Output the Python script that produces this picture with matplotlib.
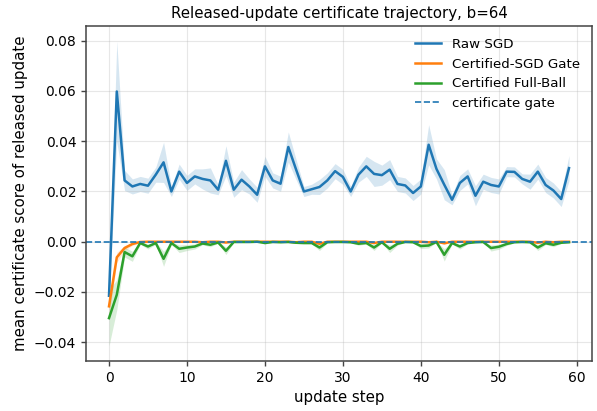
import numpy as np
import matplotlib
matplotlib.use("Agg")
import matplotlib.pyplot as plt

steps = np.arange(60)

raw_sgd = [-0.0215, 0.0598, 0.0244, 0.0220, 0.0230, 0.0223, 0.0267, 0.0316, 0.0200, 0.0279,
           0.0234, 0.0260, 0.0250, 0.0244, 0.0207, 0.0322, 0.0207, 0.0247, 0.0220, 0.0187,
           0.0300, 0.0244, 0.0231, 0.0377, 0.0287, 0.0200, 0.0209, 0.0218, 0.0244, 0.0281,
           0.0258, 0.0200, 0.0267, 0.0300, 0.0270, 0.0265, 0.0287, 0.0230, 0.0224, 0.0194,
           0.0220, 0.0386, 0.0290, 0.0227, 0.0167, 0.0234, 0.0260, 0.0183, 0.0239, 0.0226,
           0.0220, 0.0279, 0.0278, 0.0250, 0.0239, 0.0279, 0.0226, 0.0204, 0.0170, 0.0293]
raw_sgd_std = [0.003, 0.020, 0.004, 0.003, 0.003, 0.003, 0.003, 0.008, 0.002, 0.003,
               0.003, 0.003, 0.004, 0.005, 0.002, 0.006, 0.003, 0.004, 0.003, 0.003,
               0.004, 0.003, 0.003, 0.006, 0.004, 0.002, 0.002, 0.003, 0.003, 0.003,
               0.003, 0.002, 0.003, 0.004, 0.005, 0.004, 0.004, 0.003, 0.003, 0.003,
               0.003, 0.008, 0.004, 0.006, 0.002, 0.003, 0.003, 0.004, 0.003, 0.003,
               0.003, 0.002, 0.002, 0.002, 0.003, 0.003, 0.003, 0.003, 0.003, 0.005]

gate = [-0.0257, -0.0062, -0.0025, -0.0009, -0.0001, 0.0, 0.0, 0.0, 0.0, 0.0,
        0.0, 0.0, -0.0002, 0.0, 0.0, -0.0003, 0.0, 0.0, 0.0, 0.0,
        0.0, 0.0, 0.0, 0.0, -0.0002, 0.0, 0.0, -0.0008, 0.0, 0.0,
        0.0, 0.0, 0.0, 0.0, -0.0005, 0.0, 0.0, 0.0, 0.0, 0.0,
        0.0, -0.0002, 0.0, -0.0006, 0.0, 0.0, 0.0, 0.0, 0.0, 0.0,
        0.0, 0.0, 0.0, 0.0, 0.0, -0.0004, 0.0, -0.0002, 0.0, 0.0]
gate_std = [0.004, 0.002, 0.001, 0.0006, 0.0002, 0.0, 0.0, 0.0, 0.0, 0.0,
            0.0, 0.0, 0.0002, 0.0, 0.0, 0.0003, 0.0, 0.0, 0.0, 0.0,
            0.0, 0.0, 0.0, 0.0, 0.0002, 0.0, 0.0, 0.0006, 0.0, 0.0,
            0.0, 0.0, 0.0, 0.0, 0.0004, 0.0, 0.0, 0.0, 0.0, 0.0,
            0.0, 0.0002, 0.0, 0.0005, 0.0, 0.0, 0.0, 0.0, 0.0, 0.0,
            0.0, 0.0, 0.0, 0.0, 0.0, 0.0003, 0.0, 0.0002, 0.0, 0.0]

full_ball = [-0.0304, -0.0211, -0.0041, -0.0058, -0.0005, -0.0019, -0.0005, -0.0068, -0.0005, -0.0028,
             -0.0023, -0.0019, -0.0007, -0.0012, -0.0003, -0.0036, -0.0001, -0.0001, -0.0001, 0.0,
             -0.0005, -0.0001, -0.0002, -0.0001, -0.0004, -0.0005, -0.0005, -0.0023, -0.0002, -0.0001,
             -0.0001, -0.0002, -0.0008, -0.0005, -0.0023, -0.0002, -0.0028, -0.0008, -0.0001, -0.0002,
             -0.0017, -0.0015, -0.0001, -0.0052, -0.0005, -0.0019, -0.0005, -0.0002, -0.0001, -0.0025,
             -0.0020, -0.0009, -0.0002, -0.0001, -0.0002, -0.0023, -0.0006, -0.0012, -0.0004, -0.0002]
full_ball_std = [0.011, 0.006, 0.002, 0.002, 0.0005, 0.001, 0.0005, 0.003, 0.0005, 0.0015,
                 0.0012, 0.001, 0.0005, 0.0008, 0.0003, 0.0015, 0.0001, 0.0001, 0.0001, 0.0,
                 0.0004, 0.0001, 0.0002, 0.0001, 0.0003, 0.0004, 0.0004, 0.0012, 0.0002, 0.0001,
                 0.0001, 0.0002, 0.0006, 0.0004, 0.0012, 0.0002, 0.0015, 0.0006, 0.0001, 0.0002,
                 0.001, 0.001, 0.0001, 0.0025, 0.0004, 0.001, 0.0004, 0.0002, 0.0001, 0.0012,
                 0.001, 0.0006, 0.0002, 0.0001, 0.0002, 0.0012, 0.0005, 0.0008, 0.0003, 0.0002]

gate_level = 0.0

series = [("Raw SGD", raw_sgd, raw_sgd_std, "#1f77b4"),
          ("Certified-SGD Gate", gate, gate_std, "#ff7f0e"),
          ("Certified Full-Ball", full_ball, full_ball_std, "#2ca02c")]

fig = plt.figure(figsize=(5.97, 4.11), dpi=100)
ax = fig.add_axes([86/597, 1 - 361/411, (592 - 86)/597, (361 - 26)/411])

for name, mean, std, color in series:
    m = np.array(mean)
    s = np.array(std)
    ax.plot(steps, m, color=color, lw=1.8, label=name)
    ax.fill_between(steps, m - s, m + s, color=color, alpha=0.18, lw=0)

ax.axhline(gate_level, color="#1f77b4", ls="--", lw=1.2, label="certificate gate")

ax.set_title("Released-update certificate trajectory, b=64", fontsize=10.8)
ax.set_xlabel("update step", fontsize=10.8)
ax.set_ylabel("mean certificate score of released update", fontsize=10.8)
ax.tick_params(labelsize=10, color="#444444", width=1.0)
for sp in ax.spines.values():
    sp.set_color("#444444")
    sp.set_linewidth(1.1)
ax.grid(True, alpha=0.3)
ax.legend(frameon=False, fontsize=9.6, loc="upper right")

fig.savefig("out.png", dpi=100)
